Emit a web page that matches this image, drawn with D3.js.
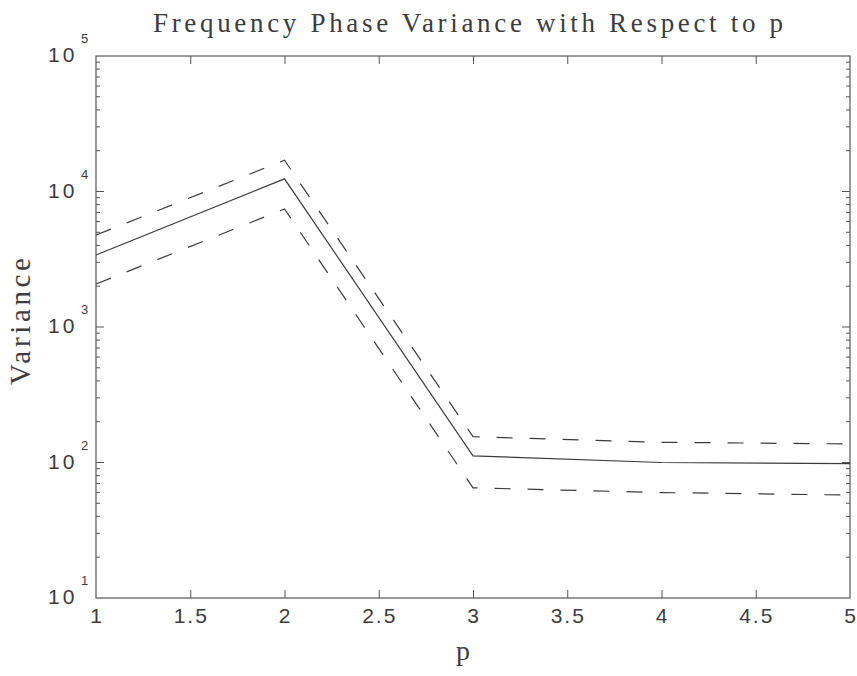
<!DOCTYPE html>
<html>
<head>
<meta charset="utf-8">
<script src="https://cdn.jsdelivr.net/npm/d3@7"></script>
<style>
  html, body { margin: 0; padding: 0; background: #fff; }
  svg { display: block; }
</style>
</head>
<body>
<svg id="chart" width="857" height="676"></svg>
<script>
// ---- data ----
const pValues = [1, 2, 3, 4, 5];
const varianceMean = [3400, 12400, 112, 100, 98];
const varianceUpper = [4770, 17000, 155, 141, 137];
const varianceLower = [2075, 7430, 65, 60, 57.5];
const xTickValues = [1, 1.5, 2, 2.5, 3, 3.5, 4, 4.5, 5];
const xTickLabels = ["1", "1.5", "2", "2.5", "3", "3.5", "4", "4.5", "5"];
const yDecades = [10, 100, 1000, 10000, 100000];
const yExponents = ["1", "2", "3", "4", "5"];
const titleText = "Frequency Phase Variance with Respect to p";
const xLabelText = "p";
const yLabelText = "Variance";

// ---- layout ----
const L = 96, R = 850, T = 56, B = 598;
const ink = "#3c3c3c";
const axisInk = "#555";

const svg = d3.select("#chart");
const x = d3.scaleLinear().domain([1, 5]).range([L, R]);
const y = d3.scaleLog().domain([10, 100000]).range([B, T]);

// frame
svg.append("rect").attr("x", L).attr("y", T).attr("width", R - L).attr("height", B - T)
  .attr("fill", "none").attr("stroke", axisInk).attr("stroke-width", 1.2);

// x ticks (bottom and top, inward)
const innerX = xTickValues.filter(v => v > 1 && v < 5);
const xb = d3.axisBottom(x).tickValues(innerX).tickSize(-8).tickFormat("");
const xt = d3.axisTop(x).tickValues(innerX).tickSize(-8).tickFormat("");
svg.append("g").attr("transform", `translate(0,${B})`).call(xb);
svg.append("g").attr("transform", `translate(0,${T})`).call(xt);

// y ticks (log: majors + minors, left and right, inward)
const allY = y.ticks().filter(v => v > 10 && v < 100000);
const majorSet = new Set(yDecades);
function yTicks(g, side) {
  g.selectAll("line").data(allY).join("line")
    .attr("x1", side === "left" ? L : R)
    .attr("x2", d => (side === "left" ? L : R) + (side === "left" ? 1 : -1) * (majorSet.has(d) ? 8 : 4))
    .attr("y1", d => y(d)).attr("y2", d => y(d))
    .attr("stroke", axisInk).attr("stroke-width", 1);
}
svg.append("g").call(yTicks, "left");
svg.append("g").call(yTicks, "right");

svg.selectAll(".domain").remove();
svg.selectAll(".tick line").attr("stroke", axisInk).attr("stroke-width", 1);

// x tick labels
svg.append("g").selectAll("text").data(xTickValues).join("text")
  .attr("x", (d) => x(d) + 1)
  .attr("y", B + 25)
  .attr("text-anchor", "middle")
  .attr("font-family", "'Liberation Sans', Arial, sans-serif")
  .attr("font-size", 21)
  .attr("letter-spacing", 2)
  .attr("fill", ink)
  .text((d, i) => xTickLabels[i]);

// y tick labels: 10^k
const yl = svg.append("g");
yDecades.forEach((d, i) => {
  yl.append("text")
    .attr("x", 48).attr("y", y(d) + 6)
    .attr("font-family", "'Liberation Sans', Arial, sans-serif")
    .attr("font-size", 21).attr("letter-spacing", 3)
    .attr("fill", ink).text("10");
  yl.append("text")
    .attr("x", 81).attr("y", y(d) - 13)
    .attr("font-family", "'Liberation Sans', Arial, sans-serif")
    .attr("font-size", 13)
    .attr("fill", ink).text(yExponents[i]);
});

// lines
const line = d3.line().x((d, i) => x(pValues[i])).y(d => y(d));
svg.append("path").datum(varianceUpper).attr("d", line)
  .attr("fill", "none").attr("stroke", ink).attr("stroke-width", 1.2)
  .attr("stroke-dasharray", "16,17");
svg.append("path").datum(varianceLower).attr("d", line)
  .attr("fill", "none").attr("stroke", ink).attr("stroke-width", 1.2)
  .attr("stroke-dasharray", "16,17");
svg.append("path").datum(varianceMean).attr("d", line)
  .attr("fill", "none").attr("stroke", ink).attr("stroke-width", 1.2);

// title
svg.append("text")
  .attr("x", 153).attr("y", 32)
  .attr("font-family", "'Liberation Serif', 'Times New Roman', serif")
  .attr("font-size", 27)
  .attr("textLength", 630).attr("lengthAdjust", "spacing")
  .attr("fill", ink).text(titleText);

// x label
svg.append("text")
  .attr("x", 463).attr("y", 660)
  .attr("text-anchor", "middle")
  .attr("font-family", "'Liberation Serif', 'Times New Roman', serif")
  .attr("font-size", 28)
  .attr("fill", ink).text(xLabelText);

// y label
svg.append("text")
  .attr("transform", "translate(30,385) rotate(-90)")
  .attr("x", 0).attr("y", 0)
  .attr("font-family", "'Liberation Serif', 'Times New Roman', serif")
  .attr("font-size", 29)
  .attr("textLength", 127).attr("lengthAdjust", "spacing")
  .attr("fill", ink).text(yLabelText);
</script>
</body>
</html>
